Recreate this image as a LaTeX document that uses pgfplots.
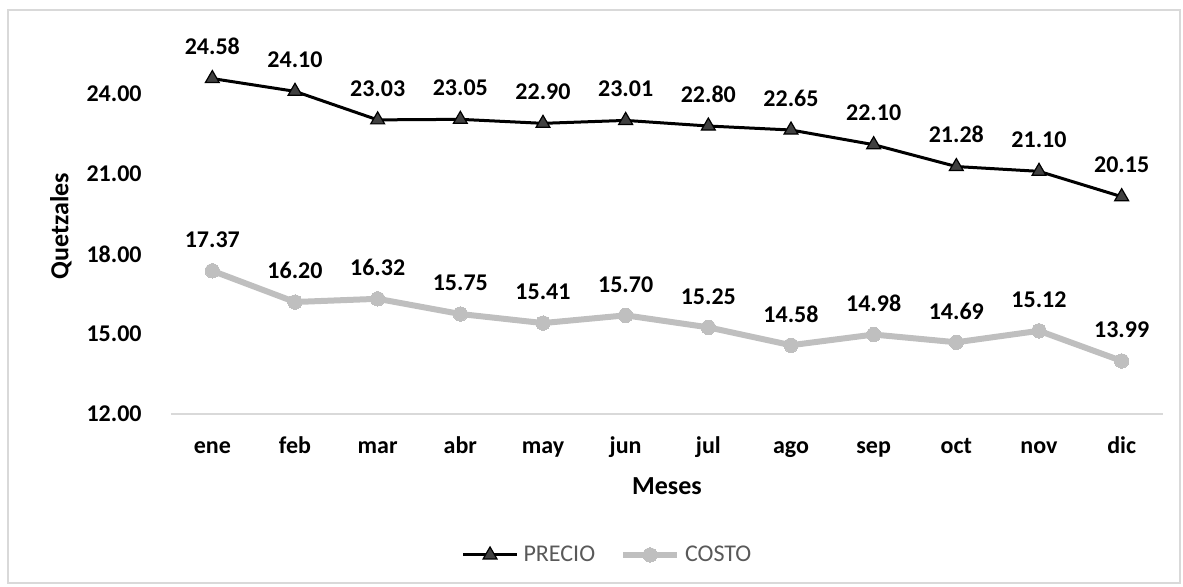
\documentclass[border=0pt]{standalone}
\usepackage{pgfplots}
\pgfplotsset{compat=1.18}
\usepackage{fontspec}
\setmainfont{Carlito}
\definecolor{costo}{HTML}{BFBFBF}
\definecolor{framegray}{HTML}{D9D9D9}
\definecolor{legtext}{HTML}{595959}

\begin{document}
\begin{tikzpicture}
\useasboundingbox (-85.5pt,-86pt) rectangle (506pt,207pt);
\draw[framegray, line width=1pt] (-81.5pt,-84.5pt) rectangle (504.5pt,202pt);
\begin{axis}[
  at={(0pt,0pt)}, anchor=south west,
  scale only axis, width=496pt, height=184pt,
  xmin=-0.5, xmax=11.5, ymin=12, ymax=25.8,
  clip=false,
  xtick={0,...,11},
  xticklabels={ene,feb,mar,abr,may,jun,jul,ago,sep,oct,nov,dic},
  ytick={12,15,18,21,24},
  axis x line*=bottom, axis y line*=left,
  x axis line style={draw=framegray, line width=1pt, -},
  y axis line style={draw=none},
  major tick length=0pt,
  /pgf/number format/assume math mode=true,
  yticklabel={\pgfmathprintnumber[fixed,fixed zerofill,precision=2]{\tick}},
  ticklabel style={font=\fontsize{12}{14}\selectfont\bfseries, inner sep=0pt},
  yticklabel style={anchor=east, xshift=-14.5pt},
  xticklabel style={anchor=base, yshift=-19.5pt},
  xlabel={Meses}, ylabel={Quetzales},
  label style={font=\fontsize{13}{15}\selectfont\bfseries},
  xlabel style={at={(axis description cs:0.5,-0.2174)}, anchor=base},
  ylabel style={at={(axis description cs:-0.1109,0.51)}, anchor=center},
  legend style={at={(axis description cs:0.4415,-0.383)}, anchor=center,
    draw=none, fill=none, legend columns=-1,
    font=\fontsize{12}{14}\selectfont\color{legtext},
    /tikz/every even column/.append style={column sep=10pt},
    nodes={inner sep=2.5pt}},
  legend image code/.code={\draw[mark repeat=2,mark phase=2,#1]
    plot coordinates {(0pt,0pt) (13.5pt,0pt) (27pt,0pt)};},
  nodes near coords,
  point meta=y,
  nodes near coords={\pgfmathprintnumber[fixed,fixed zerofill,precision=2]{\pgfplotspointmeta}},
  every node near coord/.append style={font=\fontsize{12}{14}\selectfont\bfseries,
    color=black, anchor=south, inner sep=0pt, yshift=11.5pt},
]
% precio de venta mensual
\addplot[black, line width=1.5pt, mark=triangle*, mark size=4pt,
  mark options={fill=black!75, draw=black, line width=0.6pt}]
  coordinates {(0,24.58) (1,24.10) (2,23.03) (3,23.05) (4,22.90) (5,23.01)
               (6,22.80) (7,22.65) (8,22.10) (9,21.28) (10,21.10) (11,20.15)};
\addlegendentry{PRECIO}
% costo mensual
\addplot[costo, line width=3pt, mark=*, mark size=3.6pt,
  mark options={fill=costo, draw=costo, line width=0pt}]
  coordinates {(0,17.37) (1,16.20) (2,16.32) (3,15.75) (4,15.41) (5,15.70)
               (6,15.25) (7,14.58) (8,14.98) (9,14.69) (10,15.12) (11,13.99)};
\addlegendentry{COSTO}
\end{axis}
\end{tikzpicture}
\end{document}
